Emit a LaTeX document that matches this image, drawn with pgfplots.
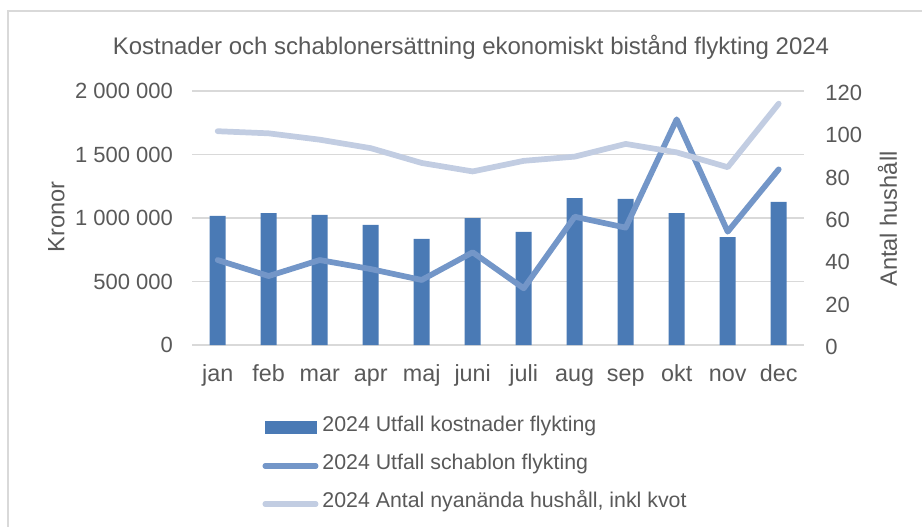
\documentclass[border=0pt]{standalone}
\usepackage{pgfplots}
\pgfplotsset{compat=1.18}
\usepackage{fontspec}
\setmainfont{Liberation Sans}
\definecolor{textgray}{RGB}{89,89,89}
\definecolor{barblue}{RGB}{74,122,181}
\definecolor{schab}{RGB}{115,150,200}
\definecolor{lightl}{RGB}{194,205,226}
\definecolor{gridc}{RGB}{217,217,217}
\begin{document}
\begin{tikzpicture}[x=1pt,y=1pt]
\useasboundingbox (0,0) rectangle (691.5,394.5);
\draw[gridc, line width=1.2pt] (6,-20) -- (6,386.25) -- (720,386.25);
\node[text=textgray, font=\fontsize{18}{20}\selectfont, anchor=center] at (353.25,359.25) {Kostnader och schablonersättning ekonomiskt bistånd flykting 2024};
\begin{axis}[
  at={(144.15pt,135.75pt)}, anchor=south west,
  scale only axis, width=459pt, height=190.5pt,
  xmin=-0.5, xmax=11.5, ymin=0, ymax=2000000,
  axis line style={draw=none}, major tick length=0pt,
  xtick={0,...,11},
  xticklabels={jan,feb,mar,apr,maj,juni,juli,aug,sep,okt,nov,dec},
  xticklabel style={text=textgray, font=\fontsize{17.5}{20}\selectfont, inner sep=0pt, anchor=north, text height=0.72em, text depth=0.21em, yshift=-20pt},
  ytick={0,500000,1000000,1500000,2000000},
  yticklabels={0,500 000,1 000 000,1 500 000,2 000 000},
  scaled y ticks=false,
  yticklabel style={text=textgray, font=\fontsize{16.5}{20}\selectfont, inner sep=0pt, xshift=-14.25pt},
  ymajorgrids, grid style={gridc, line width=1pt},
  ylabel={Kronor},
  ylabel style={at={(axis description cs:-0.222,0.504)}, anchor=center, text=textgray, font=\fontsize{17.7}{20}\selectfont, inner sep=0pt},
  clip=false,
]
\addplot[ybar, bar width=12pt, fill=barblue, draw=none] coordinates {
(0,1016000) (1,1039000) (2,1024000) (3,945000) (4,835000) (5,1000000)
(6,890000) (7,1157000) (8,1150000) (9,1039000) (10,850000) (11,1126000)};
\addplot[schab, line width=4.3pt, line join=round, line cap=round, mark=none] coordinates {
(0,669000) (1,543000) (2,669000) (3,598000) (4,512000) (5,730000)
(6,446000) (7,1010000) (8,924000) (9,1777000) (10,892000) (11,1383000)};
\end{axis}
\begin{axis}[
  at={(144.15pt,135.75pt)}, anchor=south west,
  scale only axis, width=459pt, height=190.5pt,
  xmin=-0.5, xmax=11.5, ymin=0, ymax=120,
  axis y line*=right, axis x line=none,
  axis line style={draw=none}, major tick length=0pt,
  xtick=\empty,
  ytick={0,20,...,120},
  /pgf/number format/assume math mode=true,
  yticklabel style={text=textgray, font=\fontsize{16.5}{20}\selectfont, inner sep=0pt, xshift=15.75pt, yshift=-1.5pt},
  ylabel={Antal hushåll},
  ylabel style={at={(axis description cs:1.136,0.496)}, anchor=center, text=textgray, font=\fontsize{17.7}{20}\selectfont, inner sep=0pt},
  clip=false,
  legend cell align=left,
  legend style={at={(0.1144,-0.30)}, anchor=north west, draw=none, fill=none, inner sep=0pt,
    font=\fontsize{16}{20}\selectfont, text=textgray, row sep=19.3pt, column sep=3pt,
    nodes={inner sep=0pt, text height=0.72em, text depth=0.21em}},
]
\addlegendimage{legend image code/.code={\fill[barblue] (2.25pt,-4.5pt) rectangle (40.5pt,4.5pt);}}
\addlegendentry{2024 Utfall kostnader flykting}
\addlegendimage{legend image code/.code={\draw[schab, line width=4pt, line cap=round] (2pt,0pt) -- (40pt,0pt);}}
\addlegendentry{2024 Utfall schablon flykting}
\addplot[lightl, line width=4.3pt, line join=round, line cap=round, mark=none,
  legend image code/.code={\draw[lightl, line width=4pt, line cap=round] (2pt,0pt) -- (40pt,0pt);}] coordinates {
(0,101) (1,100) (2,97) (3,93) (4,86) (5,82)
(6,87) (7,89) (8,95) (9,91) (10,84) (11,114)};
\addlegendentry{2024 Antal nyanända hushåll, inkl kvot}
\end{axis}
\end{tikzpicture}
\end{document}
